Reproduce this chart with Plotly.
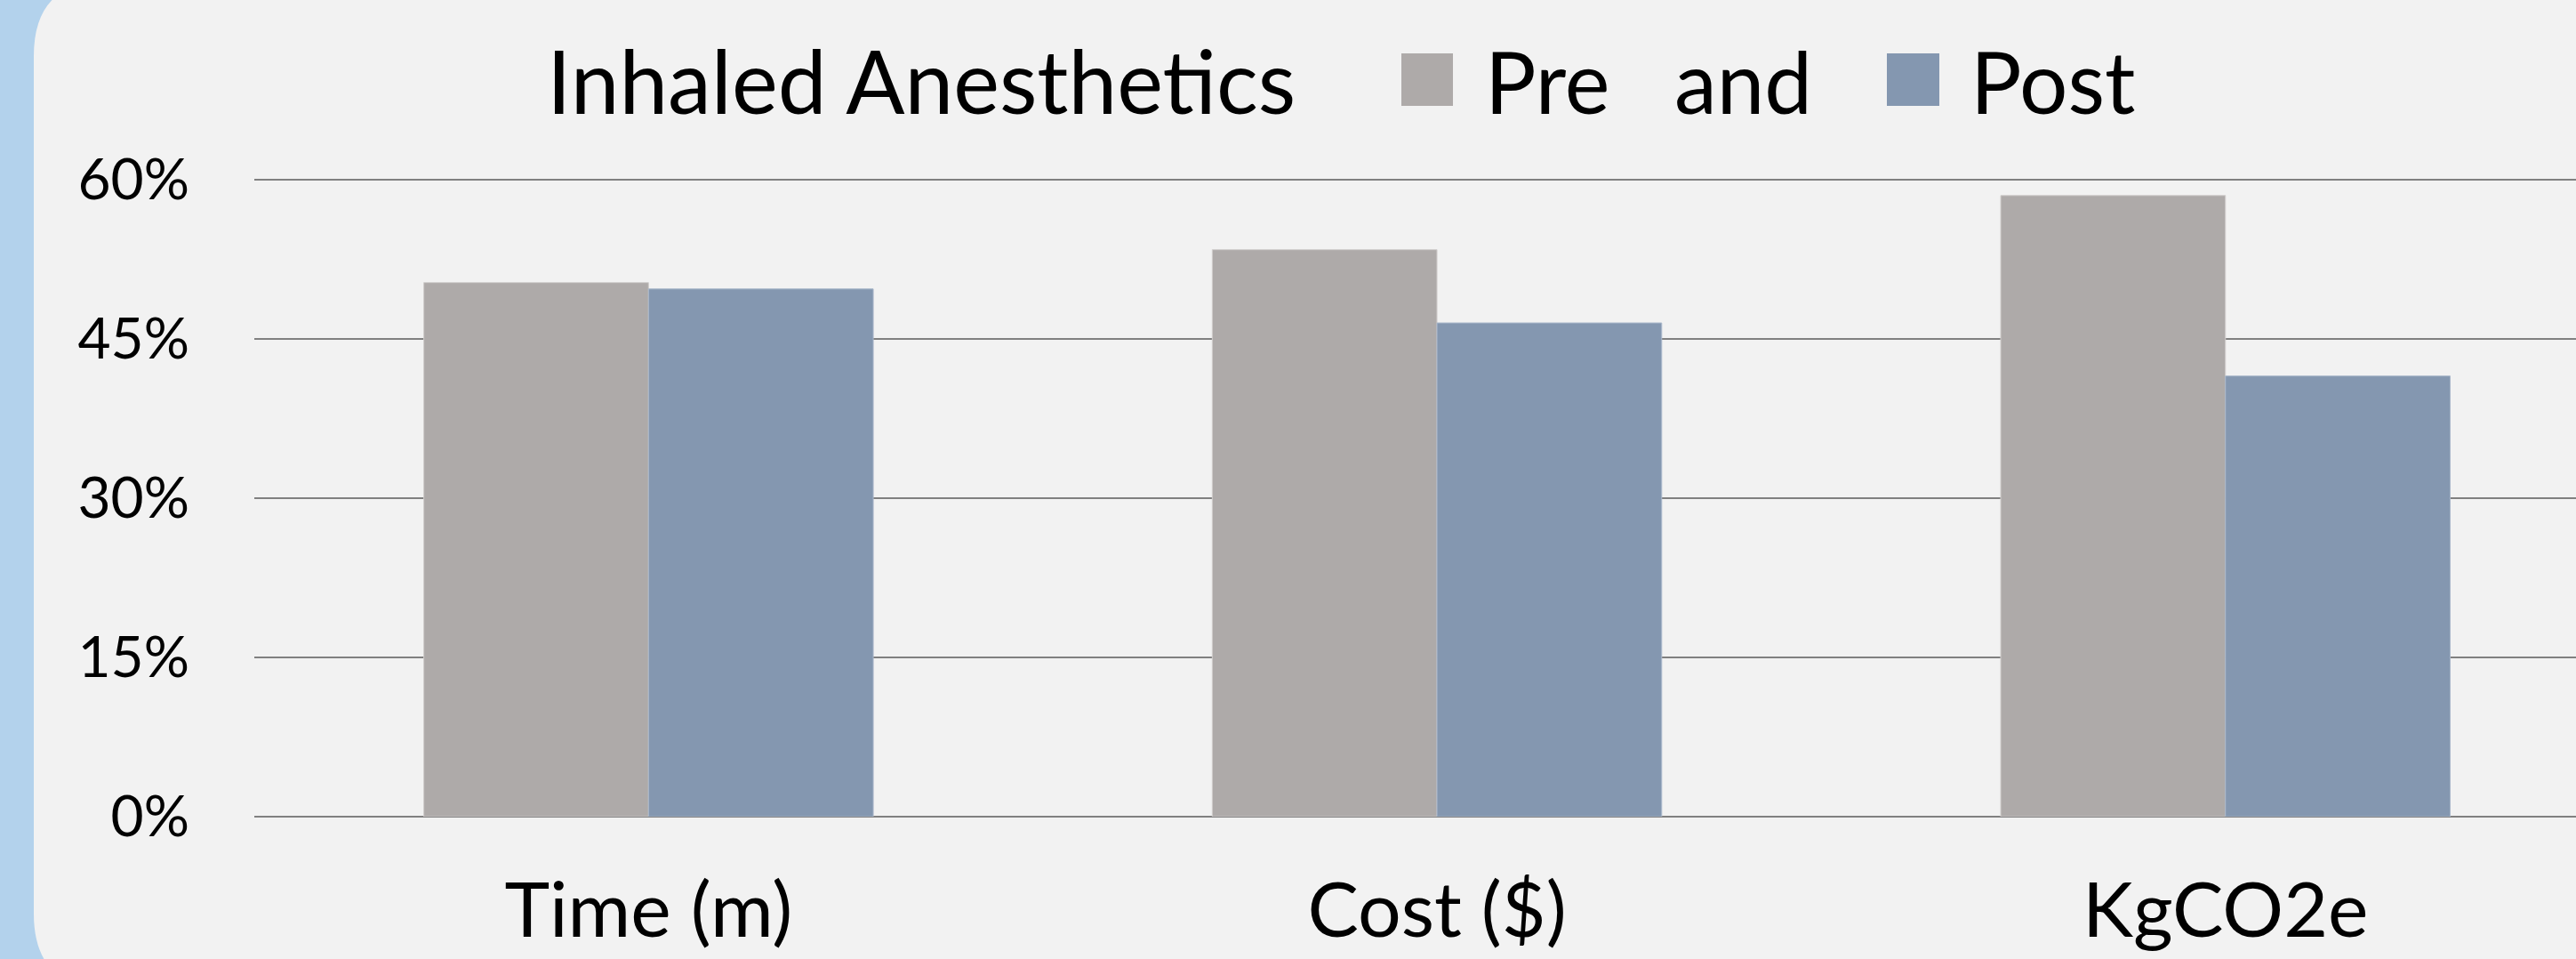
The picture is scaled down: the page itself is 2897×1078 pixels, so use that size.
import plotly.graph_objects as go

# ---- data ----
categories = ["Time (m)", "Cost ($)", "KgCO2e"]
pre_values = [0.503, 0.534, 0.585]
post_values = [0.497, 0.465, 0.415]
y_ticks = [0, 0.15, 0.30, 0.45, 0.60]
y_tick_labels = ["0%", "15%", "30%", "45%", "60%"]
title_text = "Inhaled Anesthetics"
legend_names = ["Pre", "Post"]

# ---- style ----
W, H = 2897, 1078
Y_MAX = 0.62
L, R, B = 286, 0, 160
PX_PER_UNIT = 716 / 0.6
T = int(round(H - B - Y_MAX * PX_PER_UNIT))
PW, PH = W - L - R, H - T - B
PRE_COLOR = "#AEAAA9"
POST_COLOR = "#8497B0"
BG = "#F2F2F2"
BLUE = "#B3D2EC"
GRID = "#808080"
FONT = "Lato"


def px(x):
    return (x - L) / PW


def py(y):
    return (H - B - y) / PH


fig = go.Figure()
fig.add_trace(go.Bar(x=categories, y=pre_values, name=legend_names[0],
                     marker=dict(color=PRE_COLOR, line=dict(color="#D0CDCC", width=1)),
                     showlegend=False))
fig.add_trace(go.Bar(x=categories, y=post_values, name=legend_names[1],
                     marker=dict(color=POST_COLOR, line=dict(color="#A9B7CA", width=1)),
                     showlegend=False))

# left blue frame with rounded corner of the panel
r = 85
x0 = 38
path = (
    f"M {px(0)},{py(-60)} L {px(x0 + r)},{py(-60)} L {px(x0 + r)},{py(63 - r)} "
    f"Q {px(x0)},{py(63 - r)} {px(x0)},{py(63)} "
    f"L {px(x0)},{py(1027)} "
    f"Q {px(x0)},{py(1027 + r)} {px(x0 + r)},{py(1027 + r)} "
    f"L {px(x0 + r)},{py(H + 60)} L {px(0)},{py(H + 60)} Z"
)
shapes = [dict(type="path", path=path, xref="paper", yref="paper",
               fillcolor=BLUE, line=dict(width=0), layer="above")]

# legend squares (title row)
for (sx0, sx1, col) in [(1576, 1634, PRE_COLOR), (2122, 2181, POST_COLOR)]:
    shapes.append(dict(type="rect", xref="paper", yref="paper",
                       x0=px(sx0), x1=px(sx1), y0=py(119), y1=py(60),
                       fillcolor=col, line=dict(width=0)))

annotations = [
    dict(text=title_text, x=px(613), y=py(90), xref="paper", yref="paper",
         xanchor="left", yanchor="middle", showarrow=False,
         font=dict(family=FONT, size=98, color="black")),
    dict(text=legend_names[0] + "\u2002 and", x=px(1668), y=py(90), xref="paper", yref="paper",
         xanchor="left", yanchor="middle", showarrow=False,
         font=dict(family=FONT, size=96, color="black")),
    dict(text=legend_names[1], x=px(2214), y=py(90), xref="paper", yref="paper",
         xanchor="left", yanchor="middle", showarrow=False,
         font=dict(family=FONT, size=96, color="black")),
]

fig.update_layout(
    width=W, height=H,
    margin=dict(l=L, r=R, t=T, b=B, autoexpand=False),
    paper_bgcolor=BG, plot_bgcolor=BG,
    barmode="group", bargap=0.43, bargroupgap=0,
    shapes=shapes, annotations=annotations,
    showlegend=False,
)
fig.update_xaxes(
    type="category", range=[-0.5, (W - R - 728.6) / 887.0],
    showgrid=False, zeroline=False, showline=False, ticks="",
    tickfont=dict(family=FONT, size=86, color="black"),
    ticklabelstandoff=48, automargin=False,
)
fig.update_yaxes(
    range=[0, Y_MAX], tickvals=y_ticks, ticktext=y_tick_labels,
    showgrid=True, gridcolor=GRID, gridwidth=2,
    zeroline=True, zerolinecolor=GRID, zerolinewidth=2,
    showline=False, ticks="",
    tickfont=dict(family=FONT, size=64, color="black"),
    ticklabelstandoff=72, automargin=False,
)
fig.write_html("out.html")
